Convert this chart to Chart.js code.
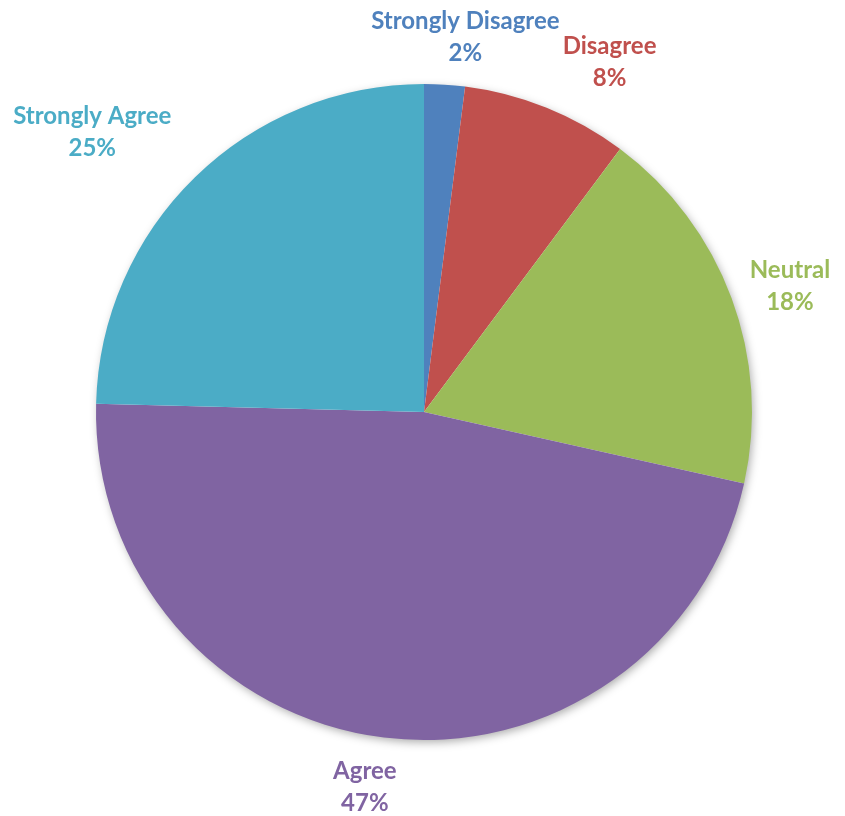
<!DOCTYPE html>
<html>
<head>
<meta charset="utf-8">
<script src="https://cdn.jsdelivr.net/npm/chart.js@4.4.0/dist/chart.umd.min.js"></script>
<style>
  html, body { margin: 0; padding: 0; background: #fff; }
  #wrap { width: 845px; height: 816px; position: relative; }
</style>
</head>
<body>
<div id="wrap"><canvas id="pie"></canvas></div>
<script>
// responses, in order clockwise from the top (shares)
const categories = ['Strongly Disagree', 'Disagree', 'Neutral', 'Agree', 'Strongly Agree'];
const percentages = [2.0, 8.2, 18.3, 46.9, 24.6];
const sliceColors = ['#4F81BD', '#C0504D', '#9BBB59', '#8064A2', '#4BACC6'];

const labelFont = 'bold 24px Lato, "Open Sans", sans-serif';
const lineHeight = 32;

// soft shadow under the pie, like the office chart
const pieShadow = {
  id: 'pieShadow',
  beforeDatasetsDraw(chart) {
    const arc = chart.getDatasetMeta(0).data[0];
    if (!arc) return;
    const ctx = chart.ctx;
    ctx.save();
    ctx.shadowColor = 'rgba(0,0,0,0.35)';
    ctx.shadowBlur = 10;
    ctx.shadowOffsetX = 2;
    ctx.shadowOffsetY = 3;
    ctx.fillStyle = '#fff';
    ctx.beginPath();
    ctx.arc(arc.x, arc.y, arc.outerRadius - 1, 0, Math.PI * 2);
    ctx.fill();
    ctx.restore();
  }
};

// category name + percent outside each slice
const outsideLabels = {
  id: 'outsideLabels',
  afterDatasetsDraw(chart, args, opts) {
    const ctx = chart.ctx;
    const meta = chart.getDatasetMeta(0);
    ctx.save();
    ctx.font = labelFont;
    ctx.textAlign = 'center';
    ctx.textBaseline = 'middle';
    meta.data.forEach((arc, i) => {
      const lines = [categories[i], Math.round(percentages[i]) + '%'];
      const w = Math.max(...lines.map(s => ctx.measureText(s).width));
      const h = lineHeight * lines.length;
      const mid = (arc.startAngle + arc.endAngle) / 2;
      const ux = Math.cos(mid), uy = Math.sin(mid);
      const half = Math.abs(ux) * w / 2 + Math.abs(uy) * h / 2;
      const d = arc.outerRadius + opts.gap + half;
      const nudge = opts.nudge[i] || [0, 0];
      const cx = arc.x + ux * d + nudge[0];
      const cy = arc.y + uy * d + nudge[1];
      ctx.fillStyle = sliceColors[i];
      lines.forEach((s, k) => {
        ctx.fillText(s, cx, cy + (k - (lines.length - 1) / 2) * lineHeight);
      });
    });
    ctx.restore();
  }
};

new Chart(document.getElementById('pie'), {
  type: 'pie',
  data: {
    labels: categories,
    datasets: [{
      data: percentages,
      backgroundColor: sliceColors,
      borderWidth: 0
    }]
  },
  options: {
    responsive: true,
    maintainAspectRatio: false,
    animation: false,
    layout: { padding: { left: 96, right: 93, top: 84, bottom: 76 } },
    plugins: {
      legend: { display: false },
      tooltip: { enabled: false },
      outsideLabels: {
        gap: 6,
        nudge: [[18, -4], [43, 4], [7, 7], [-14, 8], [-44, 15]]
      }
    }
  },
  plugins: [pieShadow, outsideLabels]
});
</script>
</body>
</html>
